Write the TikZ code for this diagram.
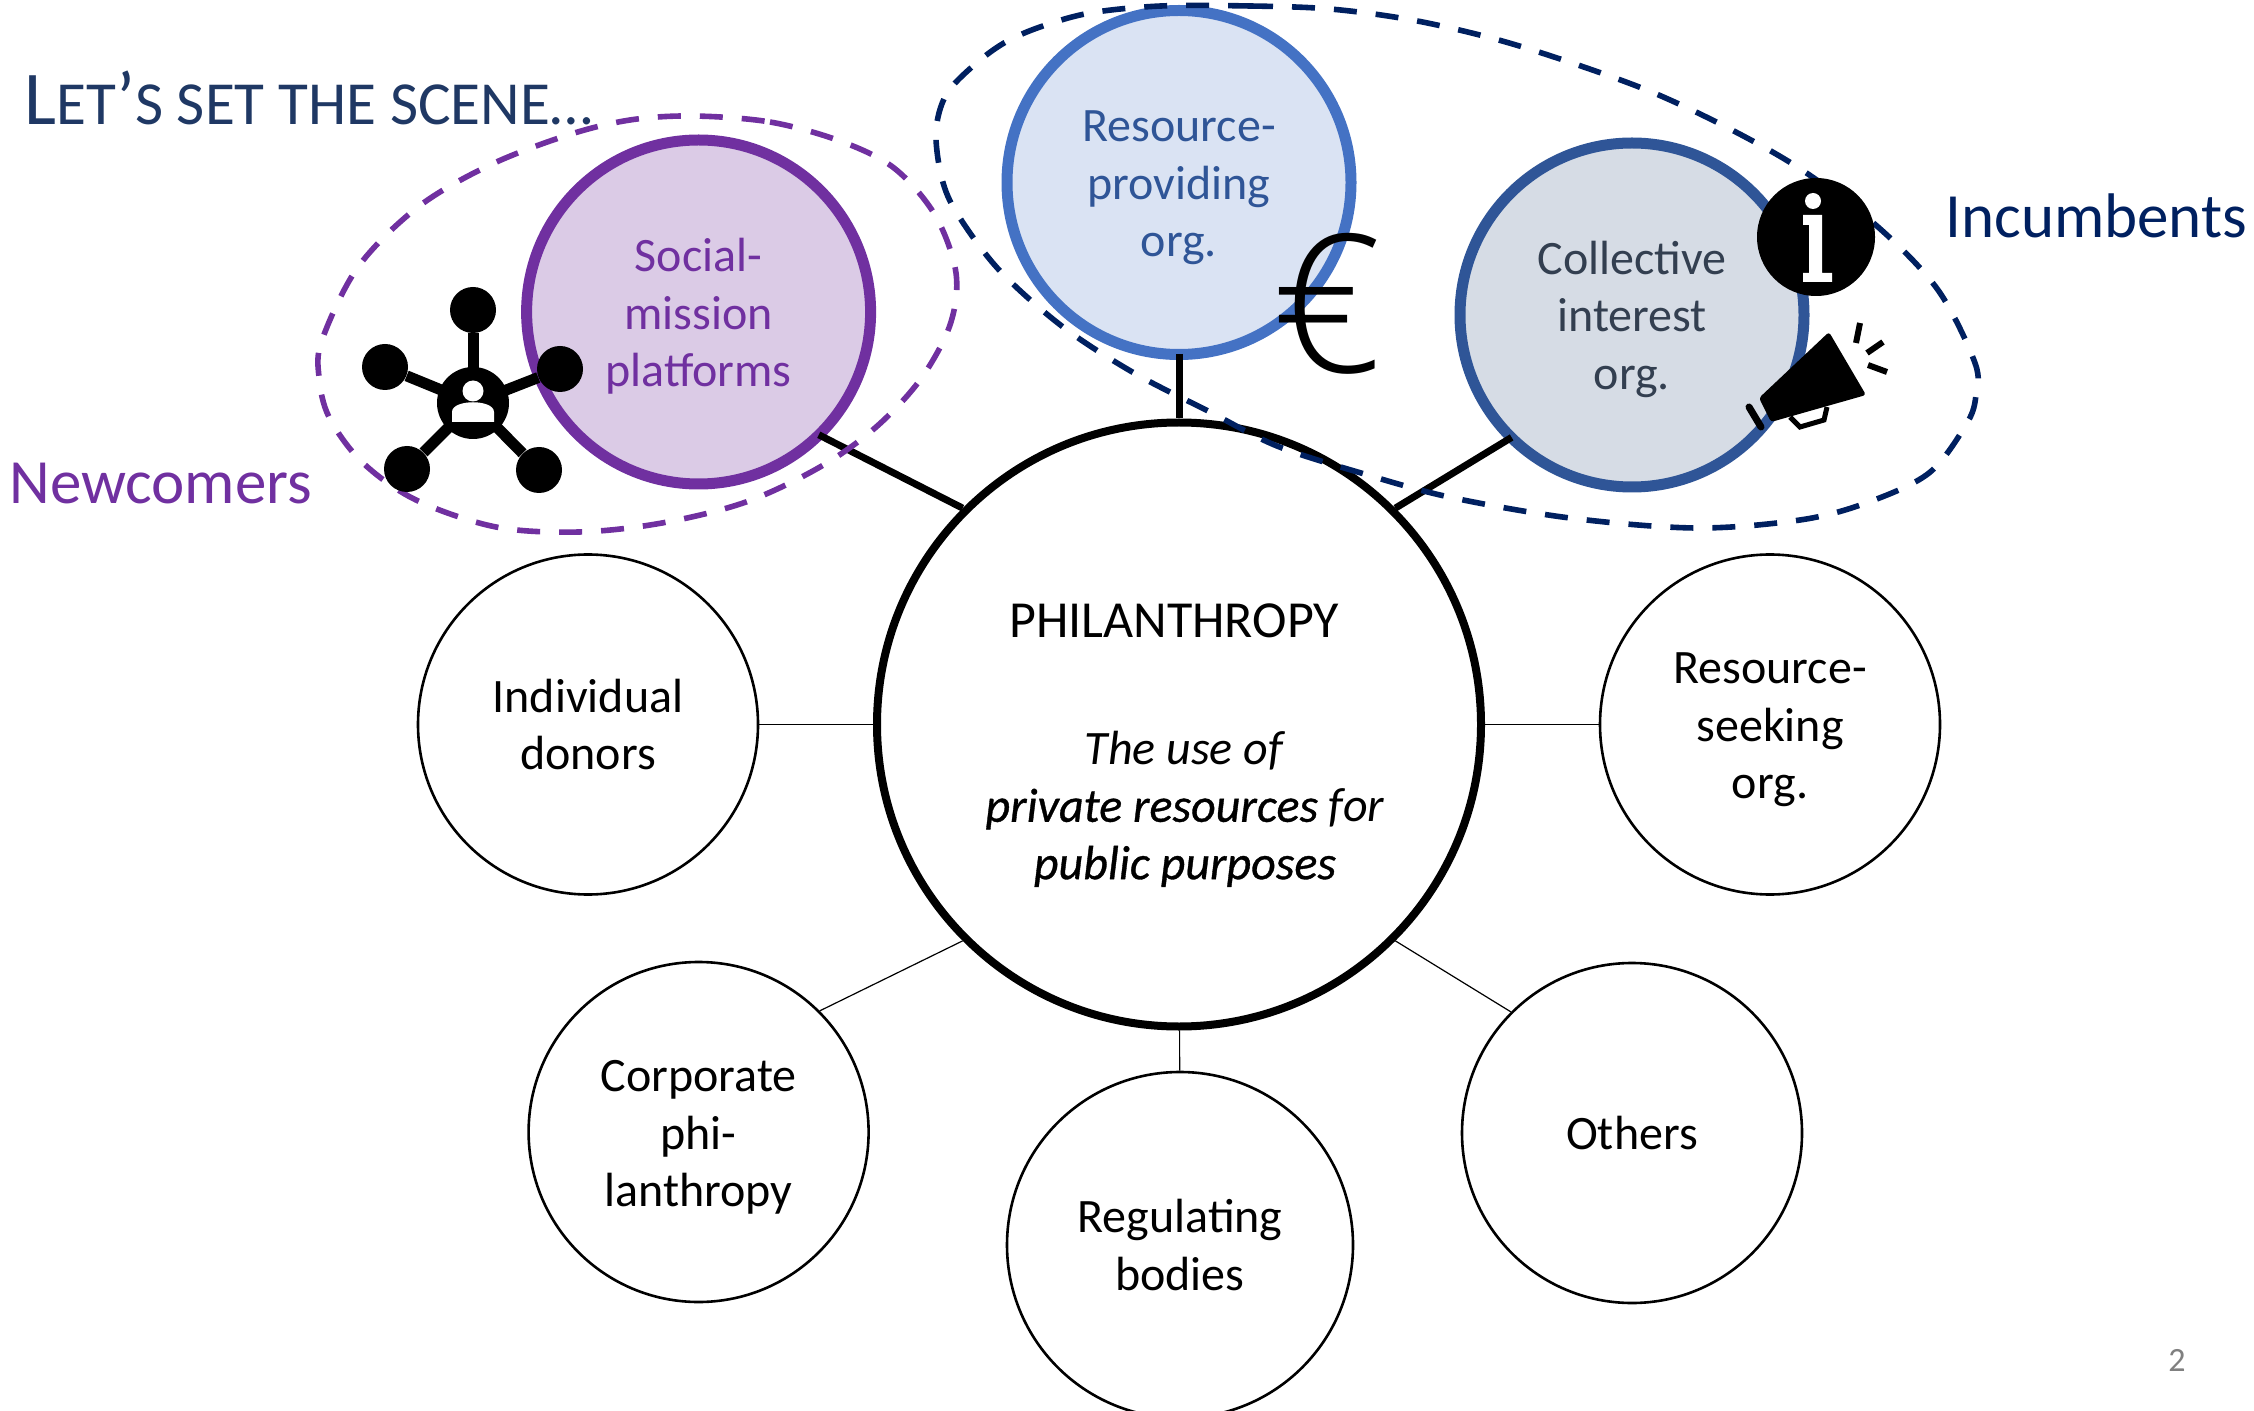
\documentclass[tikz,border=0pt]{standalone}
\usepackage{fontspec}
\setmainfont{Carlito}
\newfontfamily\eurofont{Open Sans Light}
\newfontfamily\semib{Carlito}[FakeBold=0.7]
\newcommand\tallfirst{\rule{0pt}{21pt}}
\definecolor{purp}{HTML}{7030A0}
\definecolor{purpfill}{HTML}{DBCBE6}
\definecolor{navy}{HTML}{002060}
\definecolor{title}{HTML}{1F3864}
\definecolor{bluea}{HTML}{4472C4}
\definecolor{blueafill}{HTML}{DAE3F3}
\definecolor{blueatext}{HTML}{2F5597}
\definecolor{blueb}{HTML}{2F5597}
\definecolor{bluebfill}{HTML}{D6DCE5}
\definecolor{bluebtext}{HTML}{333F50}
\tikzset{
 x=0.5pt,y=-0.5pt,
 lbl/.style={align=center,font=\fontsize{24}{28.7}\selectfont},
 circ/.style={circle,draw,line width=1.3pt,minimum size=170pt,inner sep=0pt,lbl,fill=white},
 hot/.style={circle,line width=5.5pt,minimum size=172pt,inner sep=0pt,lbl},
 thinlink/.style={line width=0.6pt},
 thicklink/.style={line width=3.5pt,shorten <=-3pt},
 dot/.style={circle,fill=black,inner sep=0pt,minimum size=23pt},
 group/.style={line width=2.8pt,dash pattern=on 11.5pt off 9.5pt,smooth cycle,tension=0.55},
}
\begin{document}
\begin{tikzpicture}
\useasboundingbox (0,0) rectangle (2254,1411);
\node[circle,draw,line width=4pt,minimum size=302pt,inner sep=0pt] (phil) at (1179,724.5) {};
\node[circ] (donors) at (588,724.5) {Individual\\donors};
\node[circ] (seeking) at (1770,724.5) {\tallfirst Resource-\\seeking\\org.};
\node[circ] (corp) at (698.6,1132) {\tallfirst Corporate\\phi-\\lanthropy};
\node[circ,minimum size=173pt] (reg) at (1180,1245) {Regulating\\bodies};
\node[circ] (others) at (1632,1133) {Others};
\node[hot,draw=purp,fill=purpfill,text=purp] (social) at (698.6,312) {\tallfirst Social-\\mission\\platforms};
\node[hot,draw=bluea,fill=blueafill,text=blueatext] (provide) at (1179,182.5) {\tallfirst Resource-\\providing\\org.};
\node[hot,draw=blueb,fill=bluebfill,text=bluebtext] (coll) at (1632,315) {\tallfirst Collective\\interest\\org.};
\draw[thinlink] (donors) -- (phil);
\draw[thinlink] (seeking) -- (phil);
\draw[thinlink] (corp.45) -- (phil.-135);
\draw[thinlink] (reg) -- (phil);
\draw[thinlink] (others.135) -- (phil.-45);
\draw[thicklink] (social.-45) -- (phil.135);
\draw[thicklink] (provide.south) -- (phil.north);
\draw[thicklink] (coll.-135) -- (phil.45);
\node[font=\fontsize{26}{28}\selectfont] (philt) at (1174,621) {PHILANTHROPY};
\node[lbl] (philu) at (1185,809) {\textit{The use of}\\{\semib\itshape private resources} \textit{for}\\{\semib\itshape public purposes}};
% dashed groups
\draw[purp,group] plot coordinates {(693,116) (770,122) (840,141) (894,168) (935,215) (956,273) (950,325) (920,380) (875,428) (820,467) (746,502) (662,523) (579,532) (496,527) (416,500) (362,462) (329,417) (319,377) (322,340) (358,267) (418,207) (490,165) (568,135) (630,120)};
\draw[navy,group] plot coordinates {(1161,6) (1250,6) (1330,9) (1412,20) (1495,39) (1575,64) (1654,93) (1730,129) (1802,170) (1878,227) (1938,290) (1975,363) (1976,395) (1967,423) (1929,473) (1866,503) (1800,520) (1696,528) (1570,518) (1449,497) (1361,473) (1277,446) (1210,412) (1134,373) (1063,327) (1000,271) (958,215) (942,179) (936,132) (946,95) (973,66) (1004,43) (1040,27) (1090,13)};
% network icon
\coordinate (nc) at (473,403);
\node[dot] (n1) at (473,310) {};
\node[dot] (n2) at (385,367) {};
\node[dot] (n3) at (560,369) {};
\node[dot] (n4) at (407,469) {};
\node[dot] (n5) at (539,470) {};
\foreach \k in {n1,n2,n3,n4,n5} \draw[line width=5.5pt] (nc) -- (\k);
\fill (nc) circle (36);
\fill[white] (473,391) circle (10.5);
\fill[white] (452,422) -- (452,412) .. controls (452,399) and (494,399) .. (494,412) -- (494,422) -- cycle;
% euro
\node[font=\fontsize{96}{96}\selectfont\eurofont] (euro) at (1327,304) {€};
% info
\node[circle,fill=black,minimum size=59pt,inner sep=0pt] (info) at (1816,237) {};
\fill[white] (1813,201) circle (8);
\fill[white] (1803,215) -- (1822,215) -- (1822,273) -- (1832,273) -- (1832,282) -- (1803,282) -- (1803,273) -- (1809,273) -- (1809,225) -- (1803,225) -- cycle;
% megaphone
\fill[black,rounded corners=1.5pt] (1759,398) -- (1829,332) -- (1866,395) -- (1771,422) -- cycle;
\draw[line width=3.5pt,line cap=round] (1749,407) -- (1761,427);
\draw[line width=2.5pt] (1790,417) -- (1800,427) -- (1824,420) -- (1827,407);
\draw[line width=3pt] (1860,323) -- (1856,343);
\draw[line width=3pt] (1883,342) -- (1867,353);
\draw[line width=3pt] (1887,372) -- (1868,365);
% labels
\node[anchor=west,title,font=\fontsize{38}{38}\selectfont,inner sep=0pt] (ttl) at (24,98) {L\fontsize{30.6}{31}\selectfont ET\fontsize{38}{38}\selectfont ’\fontsize{30.6}{31}\selectfont S SET THE SCENE…};
\node[anchor=west,purp,font=\fontsize{31.5}{32}\selectfont,inner sep=0pt] (nl) at (9,484) {Newcomers};
\node[anchor=west,navy,font=\fontsize{31.5}{32}\selectfont,inner sep=0pt] (il) at (1945,216) {Incumbents};
\node[gray,font=\fontsize{17}{17}\selectfont] (pg) at (2177,1360) {2};
\end{tikzpicture}
\end{document}
